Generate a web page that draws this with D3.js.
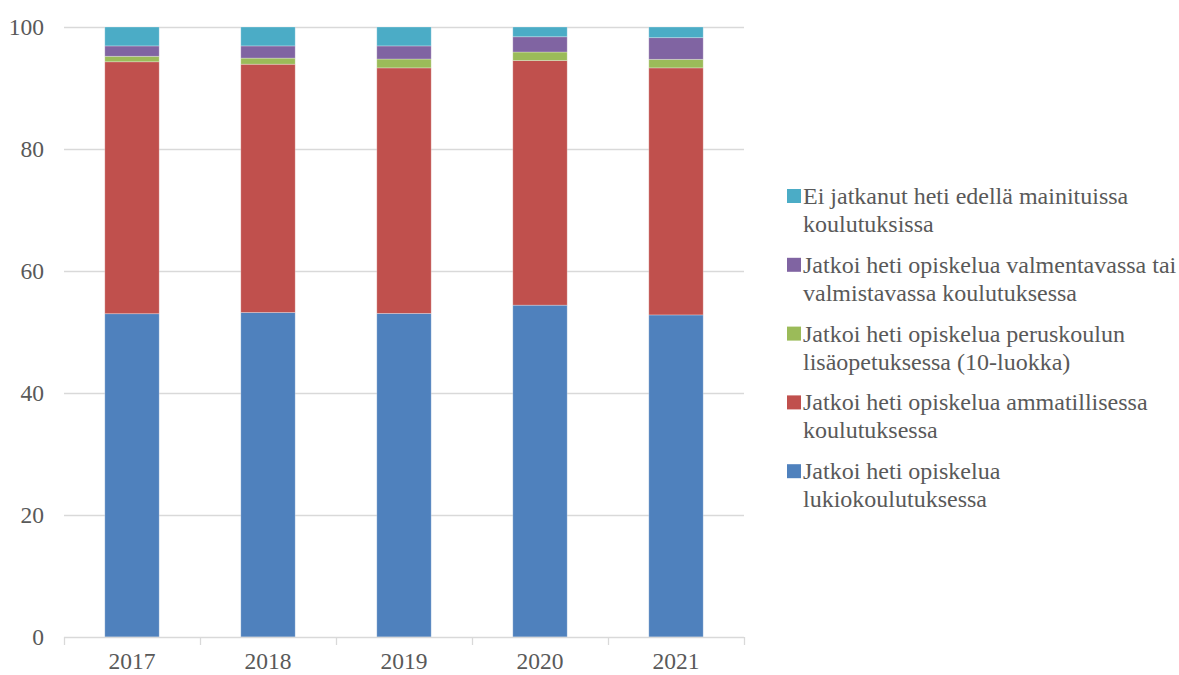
<!DOCTYPE html>
<html><head><meta charset="utf-8">
<script src="https://cdn.jsdelivr.net/npm/d3@7"></script>
<style>body{margin:0;background:#fff}svg{display:block}svg text{font-family:"Liberation Serif","Times New Roman",Tinos,"DejaVu Serif",serif}</style>
</head><body>
<svg id="chart" width="1179" height="675"></svg>
<script>
const years = ["2017","2018","2019","2020","2021"];
const seriesNames = [
  "Jatkoi heti opiskelua lukiokoulutuksessa",
  "Jatkoi heti opiskelua ammatillisessa koulutuksessa",
  "Jatkoi heti opiskelua peruskoulun lisäopetuksessa (10-luokka)",
  "Jatkoi heti opiskelua valmentavassa tai valmistavassa koulutuksessa",
  "Ei jatkanut heti edellä mainituissa koulutuksissa"
];
const legendLines = [
  ["Jatkoi heti opiskelua", "lukiokoulutuksessa"],
  ["Jatkoi heti opiskelua ammatillisessa", "koulutuksessa"],
  ["Jatkoi heti opiskelua peruskoulun", "lisäopetuksessa (10-luokka)"],
  ["Jatkoi heti opiskelua valmentavassa tai", "valmistavassa koulutuksessa"],
  ["Ei jatkanut heti edellä mainituissa", "koulutuksissa"]
];
const lukio      = [53.0, 53.2, 53.05, 54.4, 52.8];
const ammatill   = [41.3, 40.7, 40.25, 40.1, 40.5];
const lisaopetus = [0.9, 1.0, 1.45, 1.4, 1.4];
const valmentava = [1.7, 2.0, 2.15, 2.5, 3.55];
const eiJatkanut = [3.1, 3.1, 3.1, 1.6, 1.75];
const yTicks = [0, 20, 40, 60, 80, 100];
const colors = ["#4F81BD", "#C0504D", "#9BBB59", "#8064A2", "#4BACC6"];

const seriesValues = [lukio, ammatill, lisaopetus, valmentava, eiJatkanut];
const rows = years.map((yr, i) => {
  const r = {year: yr};
  seriesNames.forEach((n, k) => r[n] = seriesValues[k][i]);
  return r;
});
const stacked = d3.stack().keys(seriesNames)(rows);

const svg = d3.select("#chart");
const pLeft = 64, pRight = 744, pTop = 27, pBottom = 637;
const x = d3.scaleBand().domain(years).range([pLeft, pRight]).paddingInner(0.6).paddingOuter(0.3);
const xb = d3.scaleBand().domain(years).range([pLeft, pRight]);
const y = d3.scaleLinear().domain([0, 100]).range([pBottom, pTop]);
const textColor = "#595959";

// gridlines
svg.append("g").selectAll("line").data(yTicks.filter(t => t > 0)).join("line")
  .attr("x1", pLeft).attr("x2", pRight)
  .attr("y1", d => y(d) + 0.5).attr("y2", d => y(d) + 0.5)
  .attr("stroke", "#d9d9d9").attr("stroke-width", 1.3);

// y labels
svg.append("g").selectAll("text").data(yTicks).join("text")
  .attr("x", 44).attr("y", d => y(d)).attr("dy", "0.33em")
  .attr("text-anchor", "end").attr("font-size", 23.5)
  .attr("fill", textColor).text(d => d);

// bars
svg.append("g").selectAll("g").data(stacked).join("g")
  .attr("fill", (d, i) => colors[i])
  .selectAll("rect").data(d => d).join("rect")
  .attr("x", d => x(d.data.year))
  .attr("width", x.bandwidth())
  .attr("y", d => y(d[1]))
  .attr("height", d => y(d[0]) - y(d[1]))
  .attr("stroke", "rgba(255,255,255,0.35)").attr("stroke-width", 0.8);

// x axis
const xAxis = svg.append("g");
xAxis.append("line").attr("x1", pLeft).attr("x2", pRight)
  .attr("y1", pBottom + 0.5).attr("y2", pBottom + 0.5).attr("stroke", "#d9d9d9").attr("stroke-width", 1.3);
const tickPos = years.map(yr => xb(yr)).concat([pRight]);
xAxis.selectAll("line.t").data(tickPos).join("line").attr("class", "t")
  .attr("x1", d => d + 0.5).attr("x2", d => d + 0.5)
  .attr("y1", pBottom).attr("y2", pBottom + 8).attr("stroke", "#d9d9d9").attr("stroke-width", 1.3);
xAxis.selectAll("text").data(years).join("text")
  .attr("x", d => xb(d) + xb.bandwidth() / 2).attr("y", 669)
  .attr("text-anchor", "middle").attr("font-size", 23.5)
  .attr("fill", textColor).text(d => d);

// legend (top to bottom: reversed order)
const legendOrder = [4, 3, 2, 1, 0];
const lg = svg.append("g");
legendOrder.forEach((k, j) => {
  const cy = 196 + j * 68.8;
  lg.append("rect").attr("x", 787).attr("y", cy - 7).attr("width", 14).attr("height", 14).attr("fill", colors[k]);
  const t = lg.append("text").attr("font-size", 24).attr("fill", textColor);
  legendLines[k].forEach((ln, li) => {
    t.append("tspan").attr("x", 803).attr("y", cy + 8 + li * 28).text(ln);
  });
});
</script>
</body></html>
